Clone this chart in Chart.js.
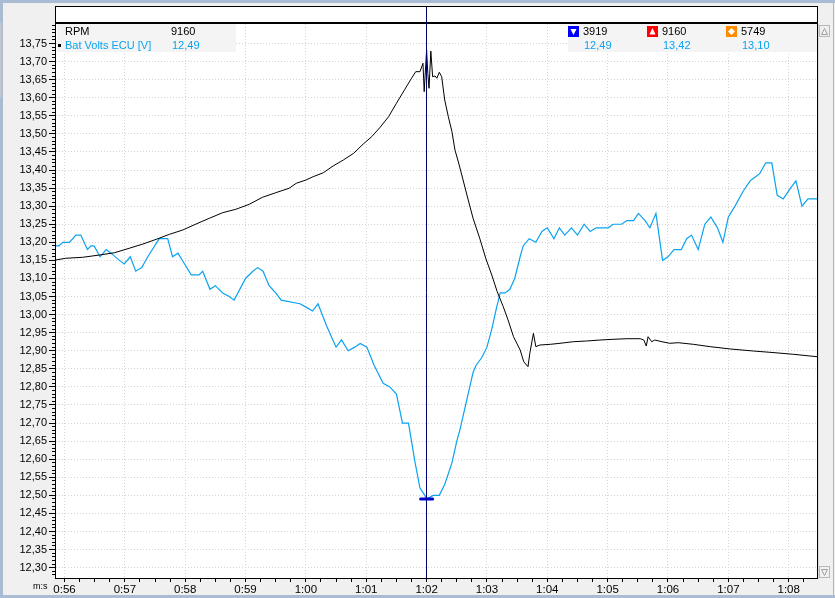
<!DOCTYPE html>
<html><head><meta charset="utf-8">
<script src="https://cdn.jsdelivr.net/npm/chart.js@4.4.0/dist/chart.umd.min.js"></script>
<style>html,body{margin:0;padding:0;background:#f0f0f0;overflow:hidden}canvas{display:block}</style>
</head><body>
<canvas id="c" width="835" height="598"></canvas>
<script>
// ---- data (time in seconds) ----
const voltTimes = [55.85,55.91,55.97,56.08,56.19,56.27,56.38,56.44,56.49,56.59,
56.69,56.77,56.91,56.99,57.09,57.18,57.28,57.38,57.57,57.71,
57.79,57.88,57.99,58.10,58.23,58.29,58.41,58.50,58.62,58.73,
58.81,59.00,59.12,59.20,59.29,59.39,59.50,59.59,59.90,60.01,
60.11,60.20,60.34,60.50,60.59,60.70,60.81,60.90,61.01,61.13,
61.28,61.39,61.50,61.60,61.70,61.81,61.89,61.97,62.00,62.11,
62.21,62.30,62.42,62.50,62.55,62.66,62.77,62.82,62.91,63.00,
63.08,63.16,63.22,63.30,63.38,63.46,63.55,63.60,63.70,63.81,
63.91,64.00,64.11,64.20,64.29,64.40,64.50,64.61,64.71,64.81,
65.01,65.09,65.23,65.32,65.43,65.51,65.62,65.70,65.80,65.91,
66.00,66.10,66.22,66.31,66.39,66.50,66.61,66.71,66.82,66.91,
67.00,67.11,67.24,67.36,67.44,67.52,67.62,67.72,67.81,67.91,
68.03,68.12,68.22,68.32,68.47];
const voltValues = [13.19,13.19,13.20,13.20,13.22,13.22,13.18,13.19,13.19,13.16,
13.18,13.17,13.15,13.14,13.16,13.12,13.13,13.16,13.21,13.21,
13.16,13.17,13.14,13.11,13.11,13.12,13.07,13.08,13.06,13.05,
13.04,13.10,13.12,13.13,13.12,13.08,13.06,13.04,13.03,13.02,
13.01,13.03,12.97,12.91,12.93,12.90,12.91,12.92,12.91,12.86,
12.81,12.80,12.78,12.70,12.70,12.59,12.52,12.50,12.49,12.50,
12.50,12.53,12.59,12.65,12.68,12.76,12.84,12.86,12.88,12.91,
12.96,13.02,13.06,13.06,13.07,13.10,13.16,13.19,13.21,13.20,
13.23,13.24,13.21,13.24,13.22,13.24,13.22,13.25,13.23,13.24,
13.24,13.25,13.25,13.26,13.26,13.28,13.26,13.24,13.28,13.15,
13.16,13.18,13.18,13.21,13.22,13.18,13.25,13.27,13.24,13.20,
13.27,13.30,13.34,13.37,13.38,13.39,13.42,13.42,13.33,13.32,
13.35,13.37,13.30,13.32,13.32];
const rpmTimes = [55.85,56.02,56.30,56.58,56.83,57.07,57.30,57.52,57.74,57.96,
58.18,58.40,58.62,58.84,59.06,59.28,59.50,59.72,59.84,60.00,
60.12,60.29,60.45,60.62,60.79,60.95,61.09,61.23,61.37,61.50,
61.64,61.75,61.82,61.89,61.94,61.96,62.00,62.02,62.04,62.07,
62.10,62.14,62.17,62.21,62.25,62.30,62.36,62.42,62.47,62.54,
62.69,62.77,62.88,62.98,63.08,63.17,63.27,63.35,63.44,63.55,
63.61,63.68,63.71,63.77,63.81,63.88,64.05,64.21,64.43,64.65,
64.87,65.09,65.32,65.54,65.60,65.64,65.67,65.73,65.78,65.90,
66.03,66.17,66.42,66.70,67.03,67.42,67.69,68.08,68.47];
const rpmValues = [5684,5713,5729,5767,5805,5878,5949,6027,6110,6181,
6280,6375,6467,6524,6606,6722,6798,6871,6954,7008,
7063,7129,7240,7339,7450,7604,7725,7881,8056,8278,
8510,8692,8801,8801,8940,8470,9160,8774,8526,9140,
8718,8730,8692,8791,8718,8332,8056,7808,7505,7257,
6677,6375,6044,5713,5436,5160,4912,4692,4415,4195,
4001,3919,4140,4471,4250,4278,4289,4306,4332,4344,
4360,4372,4382,4382,4360,4261,4415,4332,4360,4332,
4306,4316,4289,4250,4212,4178,4157,4124,4084];
const seriesNames = ['RPM', 'Bat Volts ECU [V]'];
const cursorTime = 62.0;
const cursorValues = ['9160', '12,49'];
const statRpm = ['3919', '9160', '5749'];
const statVolt = ['12,49', '13,42', '13,10'];
const timeRange = [55.859, 68.469];
const voltRange = [12.2714, 13.8039];
const voltLabelMax = 13.75;
const rpmRange = [422, 9590];
const voltStep = 0.05;
const timeStep = 1;

const BLUE = '#0ba2f0';
const FONT = '"Liberation Sans", Arial, sans-serif';
const fmtNum = v => v.toFixed(2).replace('.', ',');
const fmtTime = t => { const s = Math.round(t); return Math.floor(s/60) + ':' + String(s%60).padStart(2,'0'); };
const al = p => Math.round(p - 0.5) + 0.5;

const deco = {
  id: 'deco',
  beforeDraw(chart) {
    const {ctx, chartArea: a} = chart;
    ctx.save();
    ctx.fillStyle = '#f0f0f0'; ctx.fillRect(0, 0, chart.width, chart.height);
    ctx.fillStyle = '#ffffff';
    ctx.fillRect(a.left, a.top, a.right - a.left, a.bottom - a.top);
    ctx.fillRect(a.left, 7, a.right - a.left, 15);
    ctx.restore();
  },
  afterDraw(chart) {
    const {ctx, chartArea: a, scales} = chart;
    const xs = scales.x, ys = scales.y;
    ctx.save();
    ctx.lineWidth = 1; ctx.strokeStyle = '#000';
    // minor ticks
    ctx.beginPath();
    for (let k = Math.ceil(ys.min * 100); k <= Math.floor(ys.max * 100); k++) {
      if (k % 5 === 0 && k / 100 <= voltLabelMax + 1e-9) continue;
      const y = al(ys.getPixelForValue(k / 100));
      ctx.moveTo(a.left - 4, y); ctx.lineTo(a.left, y);
    }
    for (let k = Math.ceil(xs.min * 4); k <= Math.floor(xs.max * 4); k++) {
      if (k % 4 === 0) continue;
      const x = al(xs.getPixelForValue(k / 4));
      ctx.moveTo(x, a.bottom); ctx.lineTo(x, a.bottom + 4);
    }
    ctx.stroke();
    // frames
    ctx.strokeRect(a.left - 0.5, 6.5, a.right - a.left + 1, 16);
    ctx.strokeRect(a.left - 0.5, a.top - 0.5, a.right - a.left + 1, a.bottom - a.top + 1);

    // legends
    ctx.fillStyle = '#f4f4f4';
    ctx.fillRect(a.left + 1, a.top, 179, 28);
    ctx.fillRect(568, a.top, a.right - 568, 28);
    ctx.font = '11px ' + FONT;
    ctx.textBaseline = 'middle';
    const r1 = a.top + 8, r2 = a.top + 21.5;
    ctx.fillStyle = '#000';
    ctx.fillText(seriesNames[0], 65, r1);
    ctx.fillText(cursorValues[0], 171, r1);
    ctx.fillRect(58, r2 - 1.5, 3, 3);
    ctx.fillStyle = BLUE;
    ctx.fillText(seriesNames[1], 65, r2);
    ctx.fillText(cursorValues[1], 172, r2);

    const iconX = [568, 647, 726];
    const iconCol = ['#0000ff', '#ff0000', '#ff8c00'];
    for (let i = 0; i < 3; i++) {
      const ix = iconX[i], iy = a.top + 2;
      ctx.fillStyle = iconCol[i]; ctx.fillRect(ix, iy, 11, 11);
      ctx.fillStyle = '#fff'; ctx.beginPath();
      if (i === 0) { ctx.moveTo(ix + 2.5, iy + 3); ctx.lineTo(ix + 8.5, iy + 3); ctx.lineTo(ix + 5.5, iy + 9); }
      else if (i === 1) { ctx.moveTo(ix + 5.5, iy + 2); ctx.lineTo(ix + 8.5, iy + 8.5); ctx.lineTo(ix + 2.5, iy + 8.5); }
      else { ctx.moveTo(ix + 5.5, iy + 2); ctx.lineTo(ix + 9, iy + 5.5); ctx.lineTo(ix + 5.5, iy + 9); ctx.lineTo(ix + 2, iy + 5.5); }
      ctx.closePath(); ctx.fill();
      ctx.fillStyle = '#000'; ctx.fillText(statRpm[i], ix + 15, r1);
      ctx.fillStyle = BLUE; ctx.fillText(statVolt[i], ix + 16, r2);
    }

    // cursor
    const cx = al(xs.getPixelForValue(cursorTime));
    ctx.strokeStyle = '#000070'; ctx.lineWidth = 1;
    ctx.beginPath(); ctx.moveTo(cx, 7); ctx.lineTo(cx, a.bottom); ctx.stroke();
    // min marker on volts
    let mi = 0; voltValues.forEach((v, i) => { if (v < voltValues[mi]) mi = i; });
    const mx = xs.getPixelForValue(voltTimes[mi]), my = Math.round(ys.getPixelForValue(voltValues[mi]));
    ctx.strokeStyle = '#0000c8'; ctx.lineWidth = 3; ctx.lineCap = 'round';
    ctx.beginPath(); ctx.moveTo(mx - 6, my); ctx.lineTo(mx + 6, my); ctx.stroke();
    ctx.lineCap = 'butt'; ctx.lineWidth = 1;

    // m:s label
    ctx.fillStyle = '#000'; ctx.font = '9px ' + FONT; ctx.textBaseline = 'alphabetic';
    ctx.fillText('m:s', 33, 589);

    // scrollbar
    ctx.strokeStyle = '#dadada';
    ctx.beginPath(); ctx.moveTo(818.5, a.top); ctx.lineTo(818.5, a.bottom + 1); ctx.stroke();
    ctx.strokeStyle = '#b8b8b8';
    ctx.strokeRect(819.5, a.top + 1.5, 10, 11);
    ctx.strokeRect(819.5, a.bottom - 11.5, 10, 11);
    ctx.strokeStyle = '#a0a0a0';
    ctx.beginPath(); ctx.moveTo(821.5, a.top + 10.5); ctx.lineTo(824.5, a.top + 4.5); ctx.lineTo(827.5, a.top + 10.5); ctx.closePath(); ctx.stroke();
    ctx.beginPath(); ctx.moveTo(821.5, a.bottom - 8.5); ctx.lineTo(824.5, a.bottom - 2.5); ctx.lineTo(827.5, a.bottom - 8.5); ctx.closePath(); ctx.stroke();

    // window frame bands
    ctx.fillStyle = '#a9bcd4';
    ctx.fillRect(0, 0, chart.width, 3);
    ctx.fillRect(0, 0, 3, chart.height);
    ctx.fillRect(0, chart.height - 3, chart.width, 3);
    ctx.fillStyle = '#c4c4c4';
    ctx.fillRect(0, 23, 2, 74);
    ctx.strokeStyle = '#b4b4b4';
    ctx.beginPath(); ctx.moveTo(833.5, 3); ctx.lineTo(833.5, chart.height - 3); ctx.stroke();
    ctx.restore();
  }
};

new Chart(document.getElementById('c'), {
  type: 'line',
  data: {
    datasets: [
      { label: seriesNames[0], data: rpmTimes.map((t, i) => ({x: t, y: rpmValues[i]})), yAxisID: 'yr',
        borderColor: '#000', borderWidth: 1, pointRadius: 0, tension: 0 },
      { label: seriesNames[1], data: voltTimes.map((t, i) => ({x: t, y: voltValues[i]})), yAxisID: 'y',
        borderColor: BLUE, borderWidth: 1.2, pointRadius: 0, tension: 0 }
    ]
  },
  options: {
    responsive: false, animation: false, devicePixelRatio: 1,
    layout: { padding: { left: 0, top: 24, right: 18, bottom: 0 } },
    plugins: { legend: { display: false }, tooltip: { enabled: false } },
    scales: {
      x: {
        type: 'linear', min: timeRange[0], max: timeRange[1],
        afterFit: s => { s.height = 20; },
        ticks: { stepSize: timeStep, includeBounds: false, callback: v => fmtTime(v), maxRotation: 0, autoSkip: false,
                 color: '#000', font: { family: FONT, size: 11.5 }, padding: 1 },
        grid: { color: '#d4d4d4', tickColor: '#000', tickLength: 4, lineWidth: 1 },
        border: { display: false, dash: [1, 2] }
      },
      y: {
        type: 'linear', position: 'left', min: voltRange[0], max: voltRange[1],
        afterFit: s => { s.width = 56; },
        afterBuildTicks: s => { s.ticks = s.ticks.filter(t => t.value <= voltLabelMax + 1e-9); },
        ticks: { stepSize: voltStep, includeBounds: false, callback: v => fmtNum(v), autoSkip: false,
                 color: '#000', font: { family: FONT, size: 11 }, padding: 2 },
        grid: { color: '#d4d4d4', tickColor: '#000', tickLength: 7, lineWidth: 1 },
        border: { display: false, dash: [1, 2] }
      },
      yr: { type: 'linear', display: false, min: rpmRange[0], max: rpmRange[1] }
    }
  },
  plugins: [deco]
});
</script>
</body></html>
